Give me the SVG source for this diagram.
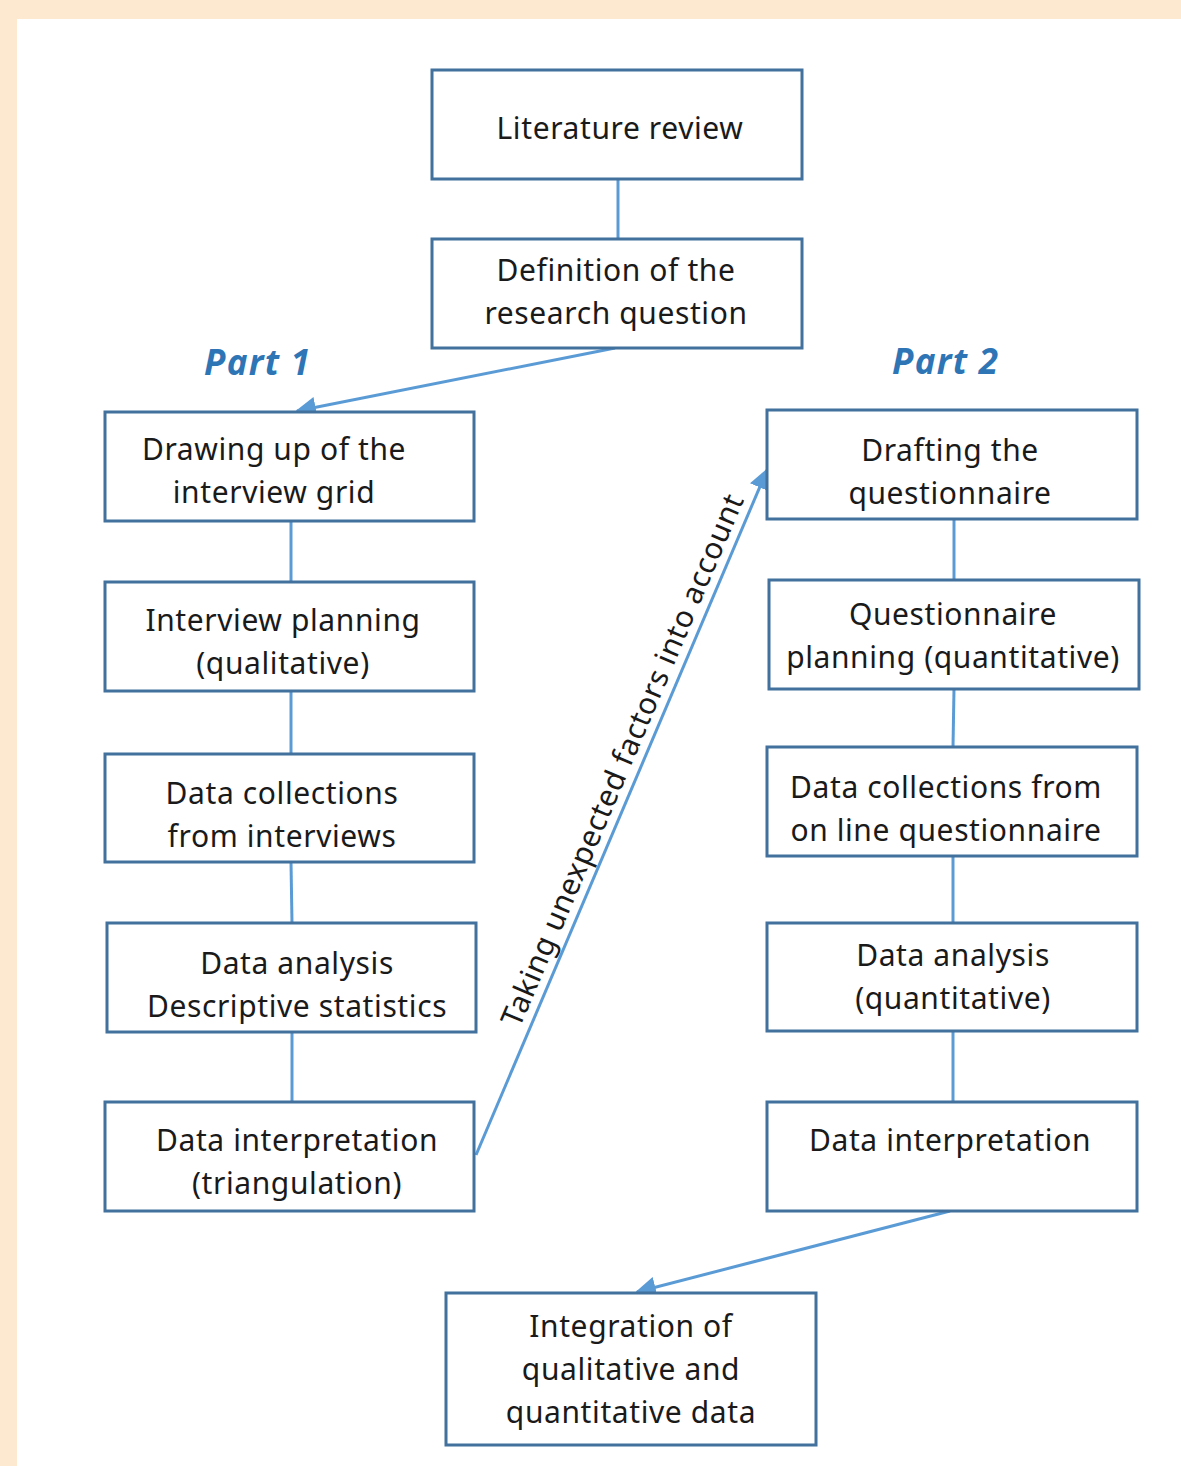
<svg xmlns="http://www.w3.org/2000/svg" width="1181" height="1466" viewBox="0 0 1181 1466">
<defs>
<style>
.box{fill:#fff;stroke:#41719C;stroke-width:3}
.t{font-family:"Noto Sans","Open Sans",sans-serif;font-size:30px;letter-spacing:0.6px;fill:#1a1a1a;text-anchor:middle}
.c{stroke:#5B9BD5;stroke-width:3;fill:none}
.part{font-family:"Open Sans","Noto Sans",sans-serif;font-size:35px;letter-spacing:1.3px;font-weight:bold;font-style:italic;fill:#2E75B6}
</style>
<marker id="ah" viewBox="0 0 10 10" refX="9" refY="5" markerWidth="7" markerHeight="7" orient="auto" markerUnits="strokeWidth">
<path d="M0,0 L10,5 L0,10 z" fill="#5B9BD5"/>
</marker>
</defs>
<rect x="0" y="0" width="1181" height="1466" fill="#FCE9D0"/>
<rect x="17" y="19" width="1164" height="1447" fill="#fff"/>
<text class="part" x="204" y="375">Part 1</text>
<text class="part" x="892" y="374">Part 2</text>
<g id="connectors">
<line class="c" x1="618" y1="179" x2="618" y2="239"/>
<line class="c" x1="615" y1="348" x2="297" y2="411" marker-end="url(#ah)"/>
<line class="c" x1="291" y1="521" x2="291" y2="582"/>
<line class="c" x1="291" y1="691" x2="291" y2="754"/>
<line class="c" x1="291" y1="862" x2="292" y2="923"/>
<line class="c" x1="292" y1="1032" x2="292" y2="1102"/>
<line class="c" x1="476" y1="1155" x2="767" y2="470" marker-end="url(#ah)"/>
<line class="c" x1="954" y1="519" x2="954" y2="580"/>
<line class="c" x1="954" y1="689" x2="953" y2="747"/>
<line class="c" x1="953" y1="856" x2="953" y2="923"/>
<line class="c" x1="953" y1="1031" x2="953" y2="1102"/>
<line class="c" x1="950" y1="1211" x2="637" y2="1292" marker-end="url(#ah)"/>
<text class="t" transform="translate(632,764) rotate(-67)">Taking unexpected factors into account</text>
</g>
<g id="n1"><rect class="box" x="432" y="70" width="370" height="109"/><text class="t" x="620" y="139">Literature review</text></g>
<g id="n2"><rect class="box" x="432" y="239" width="370" height="109"/><text class="t" x="616" y="281">Definition of the</text><text class="t" x="616" y="324">research question</text></g>
<g id="l1"><rect class="box" x="105" y="412" width="369" height="109"/><text class="t" x="274" y="460">Drawing up of the</text><text class="t" x="274" y="503">interview grid</text></g>
<g id="l2"><rect class="box" x="105" y="582" width="369" height="109"/><text class="t" x="283" y="631">Interview planning</text><text class="t" x="283" y="674">(qualitative)</text></g>
<g id="l3"><rect class="box" x="105" y="754" width="369" height="108"/><text class="t" x="282" y="804">Data collections</text><text class="t" x="282" y="847">from interviews</text></g>
<g id="l4"><rect class="box" x="107" y="923" width="369" height="109"/><text class="t" x="297" y="974">Data analysis</text><text class="t" x="297" y="1017">Descriptive statistics</text></g>
<g id="l5"><rect class="box" x="105" y="1102" width="369" height="109"/><text class="t" x="297" y="1151">Data interpretation</text><text class="t" x="297" y="1194">(triangulation)</text></g>
<g id="r1"><rect class="box" x="767" y="410" width="370" height="109"/><text class="t" x="950" y="461">Drafting the</text><text class="t" x="950" y="504">questionnaire</text></g>
<g id="r2"><rect class="box" x="769" y="580" width="370" height="109"/><text class="t" x="953" y="625">Questionnaire</text><text class="t" x="953" y="668">planning (quantitative)</text></g>
<g id="r3"><rect class="box" x="767" y="747" width="370" height="109"/><text class="t" x="946" y="798">Data collections from</text><text class="t" x="946" y="841">on line questionnaire</text></g>
<g id="r4"><rect class="box" x="767" y="923" width="370" height="108"/><text class="t" x="953" y="966">Data analysis</text><text class="t" x="953" y="1009">(quantitative)</text></g>
<g id="r5"><rect class="box" x="767" y="1102" width="370" height="109"/><text class="t" x="950" y="1151">Data interpretation</text></g>
<g id="b1"><rect class="box" x="446" y="1293" width="370" height="152"/><text class="t" x="631" y="1337">Integration of</text><text class="t" x="631" y="1380">qualitative and</text><text class="t" x="631" y="1423">quantitative data</text></g>
</svg>
